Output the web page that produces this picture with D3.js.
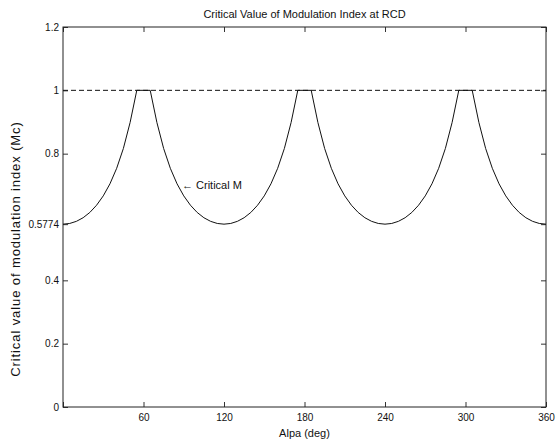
<!DOCTYPE html>
<html>
<head>
<meta charset="utf-8">
<script src="https://cdn.jsdelivr.net/npm/d3@7"></script>
<style>
  body { margin: 0; background: #fff; }
  svg text { font-family: "Liberation Sans", Arial, sans-serif; fill: #111; }
</style>
</head>
<body>
<div id="chart"></div>
<script>
var w = 556;
var h = 439;
var margin = {left: 63, right: 10, top: 27, bottom: 32};

// alpha in degrees, critical modulation index
var alpha = [0, 5, 10, 15, 20, 25, 30, 35, 40, 45, 50, 55, 60, 65, 70, 75, 80, 85, 90,
    95, 100, 105, 110, 115, 120, 125, 130, 135, 140, 145, 150, 155, 160, 165, 170, 175, 180,
    185, 190, 195, 200, 205, 210, 215, 220, 225, 230, 235, 240, 245, 250, 255, 260, 265, 270,
    275, 280, 285, 290, 295, 300, 305, 310, 315, 320, 325, 330, 335, 340, 345, 350, 355, 360];
var criticalM = [0.5774, 0.5796, 0.5863, 0.5977, 0.6144, 0.6371, 0.6667, 0.7048, 0.7537, 0.8165, 0.8982, 1, 1, 1, 0.8982, 0.8165, 0.7537, 0.7048, 0.6667,
    0.6371, 0.6144, 0.5977, 0.5863, 0.5796, 0.5774, 0.5796, 0.5863, 0.5977, 0.6144, 0.6371, 0.6667, 0.7048, 0.7537, 0.8165, 0.8982, 1, 1,
    1, 0.8982, 0.8165, 0.7537, 0.7048, 0.6667, 0.6371, 0.6144, 0.5977, 0.5863, 0.5796, 0.5774, 0.5796, 0.5863, 0.5977, 0.6144, 0.6371, 0.6667,
    0.7048, 0.7537, 0.8165, 0.8982, 1, 1, 1, 0.8982, 0.8165, 0.7537, 0.7048, 0.6667, 0.6371, 0.6144, 0.5977, 0.5863, 0.5796, 0.5774];
var limitLine = [1, 1];
var limitX = [0, 360];

var xTicks = [0, 60, 120, 180, 240, 300, 360];
var xTickLabels = ["", "60", "120", "180", "240", "300", "360"];
var yTicks = [0, 0.2, 0.4, 0.5774, 0.8, 1, 1.2];
var yTickLabels = ["0", "0.2", "0.4", "0.5774", "0.8", "1", "1.2"];

var svg = d3.select("#chart")
    .append("svg")
    .attr("width", w)
    .attr("height", h);

var x = d3.scaleLinear().domain([0, 360]).range([margin.left, w - margin.right]);
var y = d3.scaleLinear().domain([0, 1.2]).range([h - margin.bottom, margin.top]);

var tickLen = 5;

//axes: ticks point inward like matlab
var xAxis = d3.axisBottom(x).tickValues(xTicks).tickSize(-tickLen).tickPadding(7)
    .tickFormat(function (d, i) { return xTickLabels[i]; });
var yAxis = d3.axisLeft(y).tickValues(yTicks).tickSize(-tickLen).tickPadding(4)
    .tickFormat(function (d, i) { return yTickLabels[i]; });

svg.append("g")
    .attr("transform", "translate(0," + (h - margin.bottom) + ")")
    .call(xAxis);
svg.append("g")
    .attr("transform", "translate(" + margin.left + ",0)")
    .call(yAxis);

svg.append("g")
    .attr("transform", "translate(0," + margin.top + ")")
    .call(d3.axisTop(x).tickValues(xTicks).tickSize(-tickLen).tickFormat(""));
svg.append("g")
    .attr("transform", "translate(" + (w - margin.right) + ",0)")
    .call(d3.axisRight(y).tickValues(yTicks).tickSize(-tickLen).tickFormat(""));

svg.selectAll(".domain").remove();
svg.selectAll(".tick line").attr("stroke", "#333");
svg.selectAll(".tick text").attr("font-size", 10).attr("fill", "#111")
    .attr("font-family", "Liberation Sans, Arial, sans-serif");

svg.append("rect")
    .attr("x", x(0))
    .attr("y", y(1.2))
    .attr("width", x(360) - x(0))
    .attr("height", y(0) - y(1.2))
    .attr("fill", "none")
    .attr("stroke", "#222")
    .attr("stroke-width", 1);

//dashed limit at M = 1
var limit = d3.line()
    .x(function (d, i) { return x(limitX[i]); })
    .y(function (d) { return y(d); });
svg.append("path")
    .datum(limitLine)
    .attr("d", limit)
    .attr("fill", "none")
    .attr("stroke", "#111")
    .attr("stroke-width", 1)
    .attr("stroke-dasharray", "5,3");

var line = d3.line()
    .x(function (d, i) { return x(alpha[i]); })
    .y(function (d) { return y(d); });
svg.append("path")
    .datum(criticalM)
    .attr("d", line)
    .attr("fill", "none")
    .attr("stroke", "#111")
    .attr("stroke-width", 1);

//annotation
svg.append("text")
    .attr("x", 182)
    .attr("y", 189)
    .attr("font-size", 11)
    .text("\u2190 Critical M");

svg.append("text")
    .attr("x", (x(0) + x(360)) / 2)
    .attr("y", 18)
    .attr("text-anchor", "middle")
    .attr("font-size", 11)
    .text("Critical Value of Modulation Index at RCD");

svg.append("text")
    .attr("x", (x(0) + x(360)) / 2)
    .attr("y", 437)
    .attr("text-anchor", "middle")
    .attr("font-size", 11)
    .text("Alpa (deg)");

svg.append("text")
    .attr("transform", "translate(20,249) rotate(-90)")
    .attr("text-anchor", "middle")
    .attr("font-size", 13)
    .attr("letter-spacing", 0.9)
    .text("Critical value of modulation index (Mc)");
</script>
</body>
</html>
